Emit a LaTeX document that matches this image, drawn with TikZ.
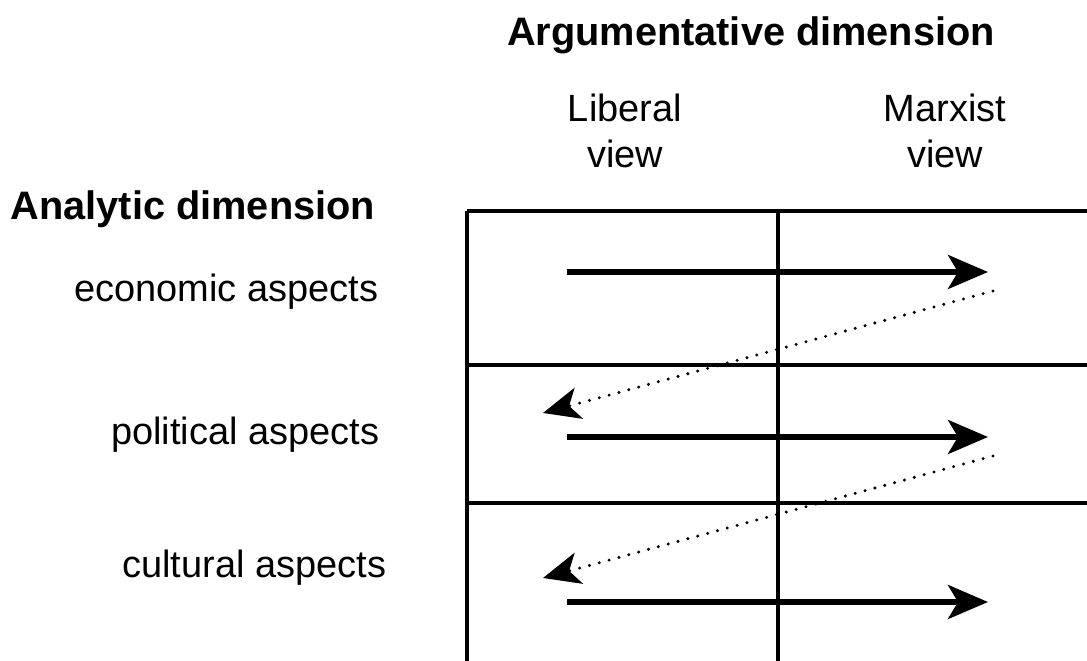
\documentclass[tikz,border=0pt]{standalone}
\usepackage{fontspec}
\setmainfont{Liberation Sans}
\usetikzlibrary{arrows.meta}

\begin{document}
\begin{tikzpicture}[x=0.01cm,y=-0.01cm,
	title/.style={font=\fontsize{11.3}{13.1}\selectfont\bfseries, inner sep=0pt},
	lab/.style={font=\fontsize{10.8}{13.1}\selectfont, inner sep=0pt, align=center},
	forth/.style={line width=1.5pt, -{Stealth[length=0.4cm,width=0.34cm,inset=0.1cm]}},
	back/.style={line width=0.95pt, line cap=round, dash pattern=on 0pt off 2.9pt, -{Stealth[length=0.37cm,width=0.32cm,inset=0.1cm]}}]
	\useasboundingbox (0,0) rectangle (1087,661);
	
	% table lines
	\draw[line width=1pt] (467,211) -- (1087,211);
	\draw[line width=1pt] (467,365) -- (1087,365);
	\draw[line width=1pt] (467,503) -- (1087,503);
	\foreach \x in {467,778} \draw[line width=1pt] (\x,211) -- (\x,661);
	
	% headings
	\node[title, anchor=base] (arg) at (751,46) {Argumentative dimension};
	\node[title, anchor=base west] (ana) at (10,220) {Analytic dimension};
	\node[lab, anchor=base] (lib) at (625,168) {Liberal\\view};
	\node[lab, anchor=base] (marx) at (945,168) {Marxist\\view};
	
	% rows
	\node[lab, anchor=base east] (eco) at (379,302) {economic aspects};
	\node[lab, anchor=base east] (pol) at (380,445) {political aspects};
	\node[lab, anchor=base east] (cul) at (387,578) {cultural aspects};
	
	% arrow ends
	\coordinate (e1) at (567,272); \coordinate (e2) at (988,272);
	\coordinate (p1) at (567,437); \coordinate (p2) at (988,437);
	\coordinate (c1) at (567,602); \coordinate (c2) at (988,602);
	\coordinate (d1) at (993,291); \coordinate (d2) at (543,413);
	\coordinate (d3) at (993,456); \coordinate (d4) at (543,578);
	
	\draw[forth] (e1) -- (e2);
	\draw[forth] (p1) -- (p2);
	\draw[forth] (c1) -- (c2);
	\draw[back] (d1) -- (d2);
	\draw[back] (d3) -- (d4);
\end{tikzpicture}
\end{document}
